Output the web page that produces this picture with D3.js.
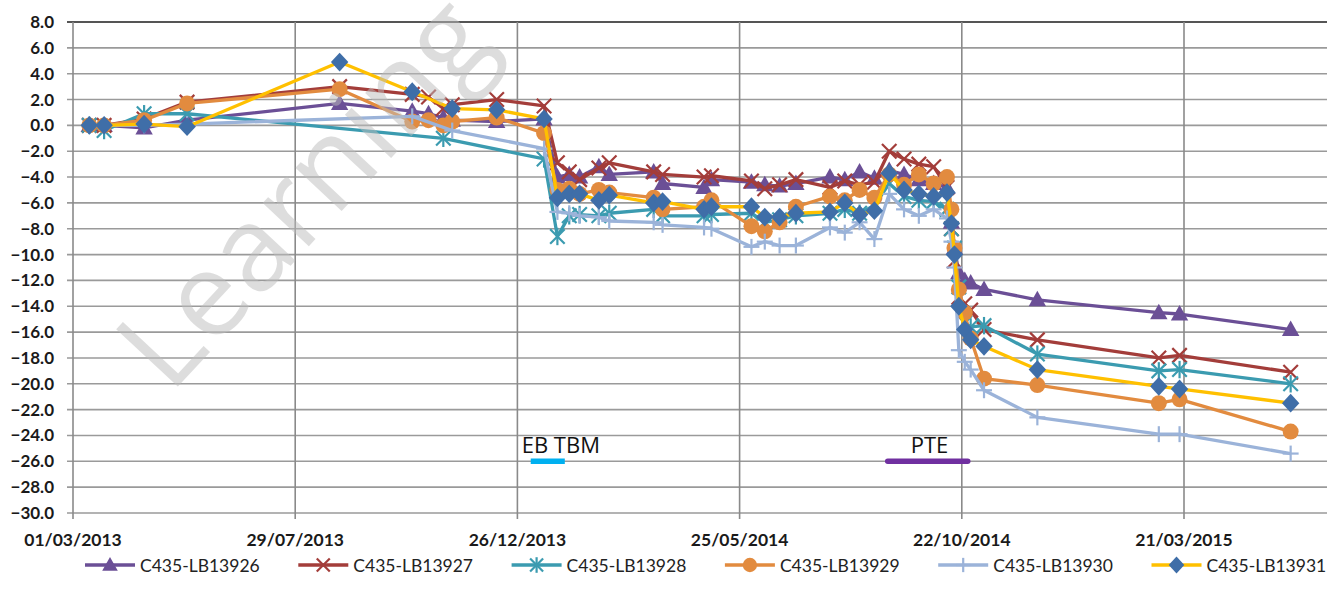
<!DOCTYPE html>
<html>
<head>
<meta charset="utf-8">
<script src="https://cdn.jsdelivr.net/npm/d3@7"></script>
<style>
  body { margin: 0; background: #fff; }
  svg text { font-family: Lato, "Open Sans", sans-serif; }
</style>
</head>
<body>
<div id="chart"></div>
<script>
// measurement dates (shared by all series)
var dates = [
  "2013-03-12", "2013-03-22", "2013-04-18", "2013-05-17", "2013-08-28", "2013-10-16", "2013-10-27",
  "2013-11-06", "2013-11-12", "2013-12-12", "2014-01-13", "2014-01-22", "2014-01-30", "2014-02-06",
  "2014-02-19", "2014-02-26", "2014-03-28", "2014-04-03", "2014-05-01", "2014-05-06", "2014-06-02",
  "2014-06-11", "2014-06-21", "2014-07-02", "2014-07-25", "2014-08-04", "2014-08-14", "2014-08-24",
  "2014-09-03", "2014-09-13", "2014-09-23", "2014-10-03", "2014-10-12", "2014-10-15", "2014-10-17",
  "2014-10-20", "2014-10-24", "2014-10-28", "2014-11-06", "2014-12-12", "2015-03-04", "2015-03-18",
  "2015-06-01"
];

var seriesNames = ["C435-LB13926", "C435-LB13927", "C435-LB13928", "C435-LB13929", "C435-LB13930", "C435-LB13931"];

var lb13926 = [0, 0, -0.2, 0.4, 1.7, 1.1, 0.9, 0.6, 0.4, 0.3, 0.5, -4.0, -3.8, -4.0, -3.2, -3.8, -3.6, -4.5,
  -4.8, -4.2, -4.4, -4.6, -4.7, -4.5, -4.0, -4.2, -3.6, -4.1, -3.5, -3.8, -4.2, -4.5, -4.8, -7.5, -9.5,
  -11.4, -12.0, -12.2, -12.7, -13.5, -14.5, -14.6, -15.8];
var lb13927 = [0, 0, 0.5, 1.8, 3.0, 2.4, 2.2, 1.3, 1.6, 2.0, 1.5, -2.9, -3.6, -4.2, -3.3, -2.9, -3.6, -3.8,
  -4.0, -3.9, -4.3, -4.9, -4.6, -4.2, -4.8, -4.3, -4.6, -4.4, -2.0, -2.6, -3.0, -3.2, -4.8, -8.0, -10.5,
  -13.3, -13.8, -14.3, -15.8, -16.6, -18.0, -17.8, -19.1];
var lb13928 = [0, -0.4, 0.9, 0.9, null, null, null, -1.0, null, null, -2.6, -8.6, -7.0, -6.9, -7.0, -6.8, -6.5, -7.0,
  -7.0, -6.9, -6.8, -7.5, -7.3, -7.0, -6.8, -6.5, -6.8, -6.2, -4.5, -5.5, -5.8, -5.9, -6.5, -8.0, -9.5,
  -12.5, -15.3, -15.6, -15.5, -17.7, -19.0, -18.9, -20.0];
var lb13929 = [0, 0, 0.4, 1.7, 2.8, 0.3, 0.4, 0.0, 0.3, 0.6, -0.6, -5.0, -4.9, -5.3, -5.0, -5.2, -5.6, -6.5,
  -6.3, -5.8, -7.8, -8.2, -7.5, -6.3, -5.5, -5.8, -5.0, -5.6, -3.8, -4.6, -3.8, -4.5, -4.0, -6.5, -9.5,
  -12.7, -14.5, -16.5, -19.6, -20.1, -21.5, -21.2, -23.7];
var lb13930 = [0, 0, 0.0, 0.1, null, 0.7, null, null, -0.4, null, -1.8, -6.7, -6.8, -7.0, -7.1, -7.4, -7.5, -7.7,
  -7.9, -8.0, -9.4, -9.0, -9.3, -9.3, -7.9, -8.3, -7.5, -8.8, -5.3, -6.5, -7.0, -6.5, -7.2, -9.0, -11.0,
  -17.4, -18.3, -18.9, -20.5, -22.6, -23.9, -23.9, -25.4];
var lb13931 = [0, 0, 0.1, -0.1, 4.9, 2.6, null, null, 1.3, 1.2, 0.5, -5.6, -5.3, -5.3, -5.8, -5.4, -6.0, -5.9,
  -6.5, -6.3, -6.3, -7.1, -7.1, -6.8, -6.7, -6.0, -6.9, -6.6, -3.7, -5.0, -5.3, -5.5, -5.2, -7.6, -10.0,
  -14.0, -15.8, -16.6, -17.1, -18.9, -20.2, -20.4, -21.5];

var xTicks = ["2013-03-01", "2013-07-29", "2013-12-26", "2014-05-25", "2014-10-22", "2015-03-21"];
var yTicks = d3.range(-30, 8.01, 2);

// construction phases drawn as bars at -26
var phases = [
  { label: "EB TBM", start: "2014-01-04", end: "2014-01-27", color: "#00b0f0" },
  { label: "PTE", start: "2014-09-02", end: "2014-10-26", color: "#7030a0" }
];

var parse = d3.timeParse("%Y-%m-%d");
var fmt = d3.timeFormat("%d/%m/%Y");

var styles = [
  { color: "#6b4f96", marker: "triangle", mcolor: "#6b4f96" },
  { color: "#a33d3a", marker: "x", mcolor: "#a33d3a" },
  { color: "#3b9bb0", marker: "star", mcolor: "#3b9bb0" },
  { color: "#e28b3f", marker: "circle", mcolor: "#e28b3f" },
  { color: "#9bb3d9", marker: "plus", mcolor: "#9bb3d9" },
  { color: "#ffc000", marker: "diamond", mcolor: "#3f6ea8" }
];

var allValues = [lb13926, lb13927, lb13928, lb13929, lb13930, lb13931];
var series = seriesNames.map((name, i) => ({
  name: name,
  style: styles[i],
  points: dates.map((d, j) => ({ date: parse(d), value: allValues[i][j] })).filter((p) => p.value != null)
}));

var width = 1327, height = 604;
var plotLeft = 73, plotRight = 1327, plotTop = 22, plotBottom = 513;

var svg = d3.select("#chart").append("svg").attr("width", width).attr("height", height);

var xScale = d3.scaleTime().domain([parse("2013-03-01"), parse("2015-03-21")]).range([plotLeft, 1184]);
var yScale = d3.scaleLinear().domain([-30, 8]).range([plotBottom, plotTop]);

// grid
var grid = svg.append("g");
grid.selectAll(".hg").data(yTicks).enter().append("line")
  .attr("x1", plotLeft - 6).attr("x2", plotRight)
  .attr("y1", (d) => yScale(d)).attr("y2", (d) => yScale(d))
  .attr("stroke", (d) => (d == 8 ? "#555" : "#9a9a9a"))
  .attr("stroke-width", (d) => (d == 8 ? 2.2 : 1.6));

grid.selectAll(".vg").data(xTicks).enter().append("line")
  .attr("x1", (d) => xScale(parse(d))).attr("x2", (d) => xScale(parse(d)))
  .attr("y1", plotTop).attr("y2", plotBottom + 6)
  .attr("stroke", "#8a8a8a").attr("stroke-width", 1.6);

// y labels
svg.append("g").selectAll("text").data(yTicks).enter().append("text")
  .attr("x", 54).attr("y", (d) => yScale(d) + 6)
  .attr("text-anchor", "end").attr("font-size", 17).attr("font-weight", 700).attr("fill", "#1a1a1a")
  .text((d) => d3.format(".1f")(d));

// x labels
svg.append("g").selectAll("text").data(xTicks).enter().append("text")
  .attr("x", (d) => xScale(parse(d))).attr("y", 546)
  .attr("text-anchor", "middle").attr("font-size", 17.5).attr("font-weight", 700).attr("fill", "#1a1a1a")
  .text((d) => fmt(parse(d)));

// phase bars
var ph = svg.append("g");
ph.selectAll("line").data(phases).enter().append("line")
  .attr("x1", (d) => xScale(parse(d.start))).attr("x2", (d) => xScale(parse(d.end)))
  .attr("y1", yScale(-26)).attr("y2", yScale(-26))
  .attr("stroke", (d) => d.color).attr("stroke-width", 5.5)
  .attr("stroke-linecap", (d, i) => (i ? "round" : "butt"));
ph.selectAll("text").data(phases).enter().append("text")
  .attr("x", (d, i) => xScale(parse(d.start)) + (i ? 23 : -9))
  .attr("y", yScale(-26) - 8)
  .attr("font-size", 22).attr("fill", "#111")
  .style("font-family", "'Open Sans', sans-serif")
  .text((d) => d.label);

function drawMarker(g, type, color, size) {
  var s = size;
  if (type == "triangle") {
    g.append("path").attr("d", `M0,${-s * 0.62}L${s * 0.6},${s * 0.45}L${-s * 0.6},${s * 0.45}Z`).attr("fill", color);
  } else if (type == "circle") {
    g.append("circle").attr("r", s * 0.55).attr("fill", color);
  } else if (type == "diamond") {
    g.append("path").attr("d", `M0,${-s * 0.65}L${s * 0.6},0L0,${s * 0.65}L${-s * 0.6},0Z`).attr("fill", color);
  } else {
    var h = s * 0.5;
    var segs = [];
    if (type == "x" || type == "star") segs.push([-h, -h, h, h], [-h, h, h, -h]);
    if (type == "plus") segs.push([-h * 1.1, 0, h * 1.1, 0], [0, -h * 1.1, 0, h * 1.1]);
    if (type == "star") segs.push([0, -h * 1.2, 0, h * 1.2]);
    segs.forEach((c) => {
      g.append("line").attr("x1", c[0]).attr("y1", c[1]).attr("x2", c[2]).attr("y2", c[3])
        .attr("stroke", color).attr("stroke-width", 2.2);
    });
  }
}

var line = d3.line().x((d) => xScale(d.date)).y((d) => yScale(d.value));

var plot = svg.append("g");
series.forEach((s) => {
  var g = plot.append("g");
  g.append("path").attr("d", line(s.points)).attr("fill", "none")
    .attr("stroke", s.style.color).attr("stroke-width", 3.3).attr("stroke-linejoin", "round");
  g.selectAll("g").data(s.points).enter().append("g")
    .attr("transform", (d) => `translate(${xScale(d.date)},${yScale(d.value)})`)
    .each(function () { drawMarker(d3.select(this), s.style.marker, s.style.mcolor, 14.5); });
});

// watermark
svg.append("text")
  .attr("transform", "translate(170,395) rotate(-47)")
  .attr("font-size", 118).attr("fill", "#bdbdbd").attr("opacity", 0.5)
  .style("font-family", "'Open Sans', sans-serif")
  .text("Learning");

// legend
var legend = svg.append("g").selectAll("g").data(series).enter().append("g")
  .attr("transform", (d, i) => `translate(${85 + i * 213.3},565)`);
legend.append("line").attr("x1", 0).attr("x2", 50).attr("y1", 0).attr("y2", 0)
  .attr("stroke", (d) => d.style.color).attr("stroke-width", 3.3);
legend.append("g").attr("transform", "translate(25,0)")
  .each(function (d) { drawMarker(d3.select(this), d.style.marker, d.style.mcolor, 13); });
legend.append("text").attr("x", 55).attr("y", 6.5).attr("font-size", 17.5).attr("fill", "#222")
  .text((d) => d.name);
</script>
</body>
</html>
